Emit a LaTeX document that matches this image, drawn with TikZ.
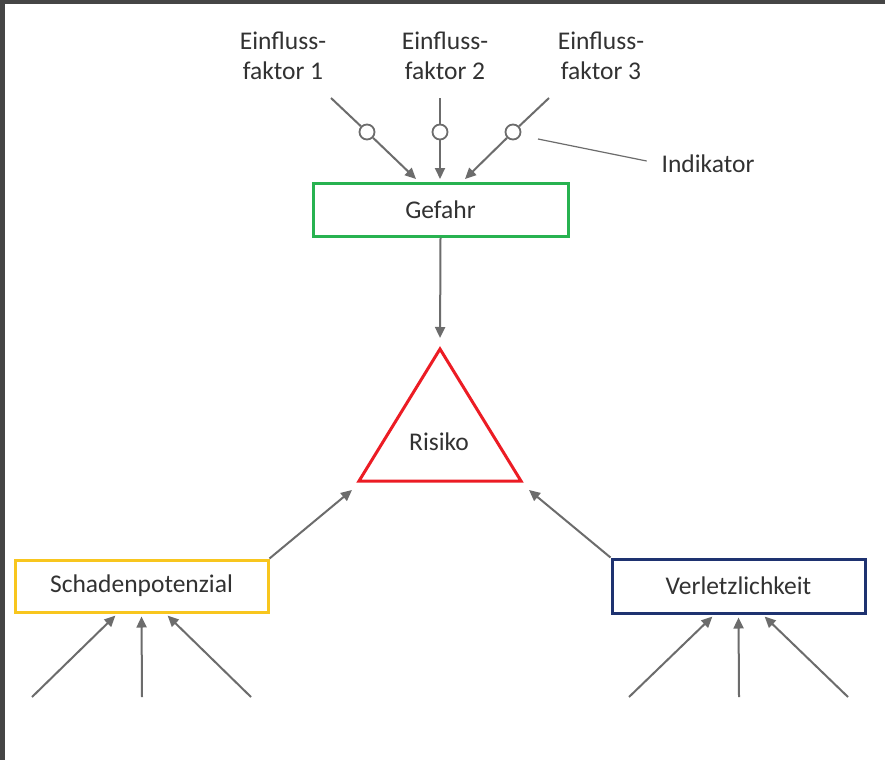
\documentclass[tikz,border=0pt]{standalone}
\usepackage{fontspec}
\setmainfont{Carlito}
\usetikzlibrary{arrows.meta,calc}
\definecolor{txt}{RGB}{50,50,50}
\definecolor{arr}{RGB}{108,108,108}
\definecolor{gefahrgreen}{RGB}{40,178,80}
\definecolor{schadenyellow}{RGB}{248,198,30}
\definecolor{verlnavy}{RGB}{30,50,112}
\definecolor{risikored}{RGB}{236,28,36}
\definecolor{frame}{RGB}{69,69,69}
\begin{document}
\begin{tikzpicture}[x=1pt,y=-1pt,
  lbl/.style={text=txt,font=\fontsize{25.5}{30}\selectfont,inner sep=0pt},
  box/.style={draw,line width=3pt,minimum height=53pt,inner sep=0pt,text=txt,font=\fontsize{25.5}{30}\selectfont},
  ptr/.style={draw=arr,line width=2pt,-{Triangle[length=11pt,width=10pt]}},
  plain/.style={draw=arr,line width=2pt},
  ind/.style={circle,draw=arr,line width=1.8pt,fill=white,minimum size=15pt,inner sep=0pt}]
\useasboundingbox (0,0) rectangle (885,760);
\fill[white] (0,0) rectangle (885,760);
\fill[frame] (0,0) rectangle (5,760);
\fill[frame] (0,0) rectangle (885,4);

% labels
\node[lbl,align=center] (ef1) at (283,56) {Einfluss-\\[0pt]faktor 1};
\node[lbl,align=center] (ef2) at (445,56) {Einfluss-\\[0pt]faktor 2};
\node[lbl,align=center] (ef3) at (601,56) {Einfluss-\\[0pt]faktor 3};
\node[lbl] (indik) at (708,164) {Indikator};

% boxes
\node[box,draw=gefahrgreen,minimum width=255pt] (gef) at (440.5,209.5) {Gefahr};
\node[box,draw=schadenyellow,minimum width=253pt,minimum height=52pt] (sp) at (141.5,586) {Schadenpotenzial};
\node[box,draw=verlnavy,minimum width=253pt,minimum height=54pt] (vl) at (738.5,586) {Verletzlichkeit};

% triangle
\coordinate (rtop) at (440,349);
\coordinate (rbl) at (359,481);
\coordinate (rbr) at (521,481);
\draw[risikored,line width=3pt,line join=miter] (rtop) -- (rbl) -- (rbr) -- cycle;
\node[lbl] (ris) at (439,442) {Risiko};

% influence arrows with indicators
\coordinate (s1) at (331,98);
\coordinate (s2) at (440,98);
\coordinate (s3) at (549,98);
\node[ind] (c1) at (367,132) {};
\node[ind] (c2) at (440,132) {};
\node[ind] (c3) at (513,132) {};
\coordinate (t1) at (416,179);
\coordinate (t2) at (440,179);
\coordinate (t3) at (465,179);
\draw[plain] (s1) -- (c1);
\draw[plain] (s2) -- (c2);
\draw[plain] (s3) -- (c3);
\draw[ptr] (c1) -- (t1);
\draw[ptr] (c2) -- (t2);
\draw[ptr] (c3) -- (t3);
\coordinate (indstart) at (538,139);
\draw[arr,line width=1.2pt,shorten >=15pt] (indstart) -- (indik.west);

% to risk
\draw[ptr,shorten >=11pt] (gef.south) -- (rtop);
\coordinate (rl) at (352,490);
\coordinate (rr) at (529,490);
\draw[ptr] (sp.north east) -- (rl);
\draw[ptr] (vl.north west) -- (rr);

% bottom inputs
\coordinate (a1) at (32,697);
\coordinate (a2) at (142,697);
\coordinate (a3) at (251,697);
\coordinate (b1) at (629,697);
\coordinate (b2) at (739,697);
\coordinate (b3) at (848,697);
\draw[ptr,shorten >=3pt] (a1) -- ([xshift=-24pt]sp.south);
\draw[ptr,shorten >=3pt] (a2) -- (sp.south);
\draw[ptr,shorten >=3pt] (a3) -- ([xshift=24pt]sp.south);
\draw[ptr,shorten >=3pt] (b1) -- ([xshift=-24pt]vl.south);
\draw[ptr,shorten >=3pt] (b2) -- (vl.south);
\draw[ptr,shorten >=3pt] (b3) -- ([xshift=24pt]vl.south);
\end{tikzpicture}
\end{document}
